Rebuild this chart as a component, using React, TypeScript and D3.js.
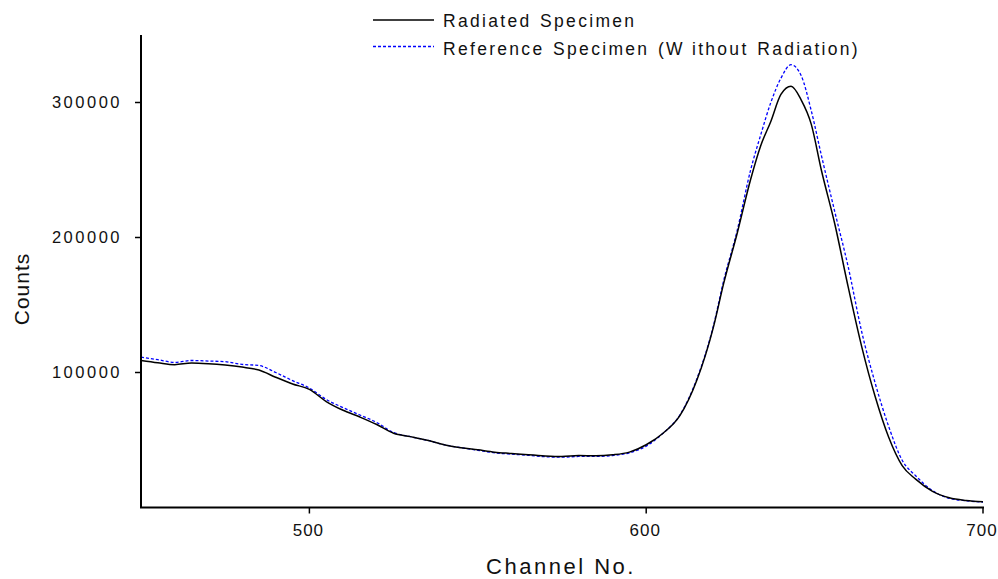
import React from 'react';
import * as d3 from 'd3';

// channel numbers sampled along the spectrum
const channels = [450, 455, 460, 465, 470, 475, 480, 485, 490, 495, 500, 505, 510, 515, 520, 525, 530, 535, 540, 545, 550, 555, 560, 565, 570, 575, 580, 585, 590, 595, 600, 605, 610, 615, 620, 623, 627, 631, 634, 637, 640, 643, 646, 649, 652, 656, 660, 664, 668, 672, 676, 680, 685, 690, 695, 700];

const radiated = [108900, 107200, 105800, 107000, 106500, 105500, 104000, 101800, 96500, 91500, 87500, 78500, 72000, 67000, 61500, 55000, 52500, 49800, 46500, 44300, 42700, 41000, 40000, 39000, 38200, 37800, 38500, 38300, 39000, 41000, 46500, 55000, 68000, 94000, 134000, 166000, 203000, 243000, 268000, 286000, 306000, 312000, 302000, 284000, 250000, 210000, 163000, 119000, 82000, 52000, 31000, 21000, 12000, 7200, 5200, 4200];

const reference = [111400, 109500, 107500, 108900, 108500, 108000, 106000, 105200, 100000, 94000, 88500, 80000, 74000, 68500, 63000, 55500, 52500, 49800, 46500, 44300, 42400, 40500, 39500, 38700, 37600, 37300, 37800, 37800, 38500, 40500, 45500, 55000, 68500, 95000, 135000, 168000, 205000, 250000, 276000, 300000, 318000, 328000, 320000, 294000, 261000, 219000, 178000, 130000, 92000, 60000, 35000, 23500, 12500, 6800, 5000, 4000];

const xTicks = [500, 600, 700];
const yTicks = [100000, 200000, 300000];

const seriesNames = ['Radiated Specimen', 'Reference Specimen (Without Radiation)'];

const W = 998;
const H = 579;
const font = '"Liberation Sans", Arial, Helvetica, sans-serif';

export default function App() {
  const x = d3.scaleLinear().domain([450, 700]).range([141, 983]);
  const y = d3.scaleLinear().domain([0, 350000]).range([507.5, 35]);

  const line = d3
    .line<number>()
    .x((_, i) => x(channels[i]))
    .y((d) => y(d))
    .curve(d3.curveMonotoneX);

  // split the second legend entry so the gap after "W" can be reproduced
  const refName = seriesNames[1];
  const wIdx = refName.indexOf('W') + 1;

  return (
    <svg
      width={W}
      height={H}
      style={{ position: 'absolute', left: 0, top: 0, background: '#fff' }}
      fontFamily={font}
    >
      <rect width={W} height={H} fill="#fff" />

      {/* data */}
      <path d={line(reference) || ''} fill="none" stroke="#0000ff" strokeWidth={1.3} strokeDasharray="3,2" />
      <path d={line(radiated) || ''} fill="none" stroke="#000" strokeWidth={1.5} />

      {/* axes */}
      <line x1={x(450)} x2={x(450)} y1={y(350000)} y2={y(0)} stroke="#000" strokeWidth={2} />
      <line x1={x(450) - 1} x2={x(700) + 1} y1={y(0)} y2={y(0)} stroke="#000" strokeWidth={2} />

      {yTicks.map((t) => (
        <g key={t}>
          <line x1={x(450) - 6} x2={x(450)} y1={y(t)} y2={y(t)} stroke="#000" strokeWidth={1.5} />
          <text
            x={122}
            y={y(t)}
            dy="0.35em"
            textAnchor="end"
            fontSize={16.5}
            letterSpacing={2.5}
            fill="#111"
          >
            {t}
          </text>
        </g>
      ))}

      {xTicks.map((t) => (
        <g key={t}>
          <line x1={x(t)} x2={x(t)} y1={y(0)} y2={y(0) + 6} stroke="#000" strokeWidth={1.5} />
          <text x={x(t) - 1} y={536} textAnchor="middle" fontSize={17} letterSpacing={1} fill="#111">
            {t}
          </text>
        </g>
      ))}

      <text x={561} y={574} textAnchor="middle" fontSize={22} letterSpacing={2.5} fill="#111">
        Channel No.
      </text>
      <text
        transform="translate(29,289) rotate(-90)"
        textAnchor="middle"
        fontSize={21}
        letterSpacing={1}
        fill="#111"
      >
        Counts
      </text>

      {/* legend */}
      <line x1={373} x2={434} y1={20} y2={20} stroke="#000" strokeWidth={1.5} />
      <text x={443} y={26.5} fontSize={17.5} letterSpacing={2.3} wordSpacing={1.5} fill="#111">
        {seriesNames[0]}
      </text>
      <line x1={373} x2={434} y1={46.5} y2={46.5} stroke="#0000ff" strokeWidth={1.3} strokeDasharray="3,2" />
      <text x={443} y={54.5} fontSize={17.5} letterSpacing={2.3} wordSpacing={1.5} fill="#111">
        <tspan>{refName.slice(0, wIdx)}</tspan>
        <tspan dx={7}>{refName.slice(wIdx)}</tspan>
      </text>
    </svg>
  );
}
